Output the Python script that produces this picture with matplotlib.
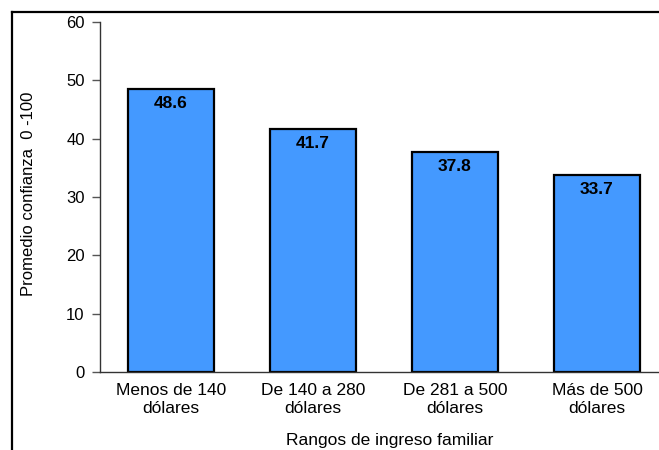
import matplotlib.pyplot as plt
from matplotlib.lines import Line2D

plt.rcParams['font.family'] = ['Liberation Sans', 'DejaVu Sans']

# Rangos de ingreso y promedio de confianza
categorias = ['Menos de 140\ndólares', 'De 140 a 280\ndólares',
              'De 281 a 500\ndólares', 'Más de 500\ndólares']
promedios = [48.6, 41.7, 37.8, 33.7]

W, H = 659, 450
fig = plt.figure(figsize=(W / 100, H / 100), dpi=100)
ax = fig.add_axes([100 / W, 78 / H, 568 / W, 350 / H])

x = range(len(categorias))
bars = ax.bar(x, promedios, width=0.6, color='#4499ff', edgecolor='black', linewidth=1.6)

for b, v in zip(bars, promedios):
    ax.text(b.get_x() + b.get_width() / 2, v - 1.2, f'{v:.1f}', ha='center', va='top',
            fontsize=12.5, fontweight='bold', color='black')

ax.set_xlim(-0.5, 3.5)
ax.set_ylim(0, 60)
ax.set_yticks(range(0, 61, 10))
ax.set_xticks(list(x))
ax.set_xticklabels(categorias, fontsize=12.5)
ax.tick_params(axis='y', labelsize=12, length=6, width=1, color='#555555', pad=5)
ax.tick_params(axis='x', length=0, pad=8)

for s in ['top', 'right']:
    ax.spines[s].set_visible(False)
ax.spines['left'].set_color('#333333')
ax.spines['bottom'].set_color('#333333')
ax.spines['left'].set_linewidth(1)
ax.spines['bottom'].set_linewidth(1)

ax.set_ylabel('Promedio confianza  0 -100', fontsize=12)
ax.yaxis.set_label_coords(-64 / 568, 0.51)
fig.text(390 / W, 1 - 440 / H, 'Rangos de ingreso familiar', ha='center', va='center', fontsize=12.5)

# marco exterior
fig.add_artist(Line2D([11.5 / W, 11.5 / W], [0, 1 - 12 / H], color='black', linewidth=1.6))
fig.add_artist(Line2D([11.5 / W, 1], [1 - 12 / H, 1 - 12 / H], color='black', linewidth=1.6))

fig.savefig('out.png', dpi=100)
